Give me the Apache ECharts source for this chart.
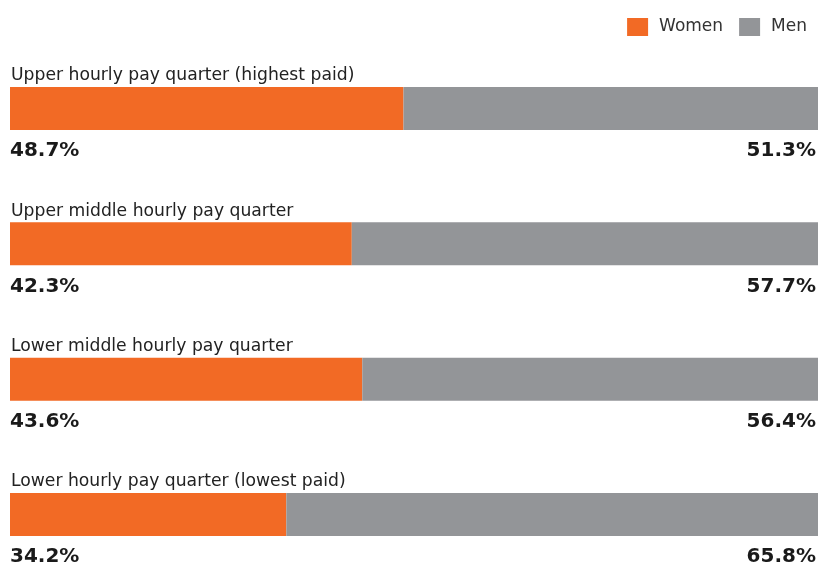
<!DOCTYPE html>
<html>
<head>
<meta charset="utf-8">
<title>Hourly pay quarters</title>
<script src="https://cdn.jsdelivr.net/npm/echarts@6/dist/echarts.min.js"></script>
<style>
  html, body { margin: 0; padding: 0; background: #fff; }
  #chart { width: 818px; height: 566px; }
</style>
</head>
<body>
<div id="chart"></div>
<script>
// quarters, top to bottom
var categories = [
  'Upper hourly pay quarter (highest paid)',
  'Upper middle hourly pay quarter',
  'Lower middle hourly pay quarter',
  'Lower hourly pay quarter (lowest paid)'
];
var women = [48.7, 42.3, 43.6, 34.2];
var men = [51.3, 57.7, 56.4, 65.8];

var ORANGE = '#f26a25';
var GREY = '#939598';

var chart = echarts.init(document.getElementById('chart'));

var pctLabel = {
  show: true,
  color: '#1a1a1a',
  fontFamily: 'DejaVu Sans',
  fontWeight: 'bold',
  fontSize: 20,
  verticalAlign: 'middle',
  formatter: function (p) { return p.value.toFixed(1) + '%'; }
};

var option = {
  animation: false,
  legend: {
    right: 6,
    top: 13,
    itemWidth: 21,
    itemHeight: 18,
    itemGap: 16,
    icon: 'rect',
    selectedMode: false,
    textStyle: {
      color: '#333',
      fontFamily: 'DejaVu Sans',
      fontSize: 17,
      padding: [0, 0, 0, 6]
    },
    data: ['Women', 'Men']
  },
  // bars sit on the ticks (boundaryGap off), so first/last bar centres are the grid edges
  grid: {
    left: 10,
    right: 0,
    top: 108.5,
    bottom: 51.5
  },
  xAxis: {
    type: 'value',
    min: 0,
    max: 100,
    show: false
  },
  yAxis: {
    type: 'category',
    inverse: true,
    boundaryGap: false,
    data: categories,
    axisLine: { show: false },
    axisTick: { show: false },
    splitLine: { show: false },
    axisLabel: {
      inside: true,
      margin: 1,
      color: '#222',
      fontFamily: 'DejaVu Sans',
      fontSize: 17.2,
      verticalAlign: 'bottom',
      padding: [0, 0, 24, 0]
    }
  },
  series: [{
    name: 'Women',
    type: 'bar',
    stack: 'pay',
    barWidth: 43,
    clip: false,
    data: women,
    itemStyle: { color: ORANGE },
    label: Object.assign({}, pctLabel, { position: [0, 64], align: 'left' })
  }, {
    name: 'Men',
    type: 'bar',
    stack: 'pay',
    barWidth: 43,
    clip: false,
    data: men,
    itemStyle: { color: GREY },
    label: Object.assign({}, pctLabel, { position: ['100%', 64], align: 'right', offset: [-2, 0] })
  }]
};

chart.setOption(option);
</script>
</body>
</html>
